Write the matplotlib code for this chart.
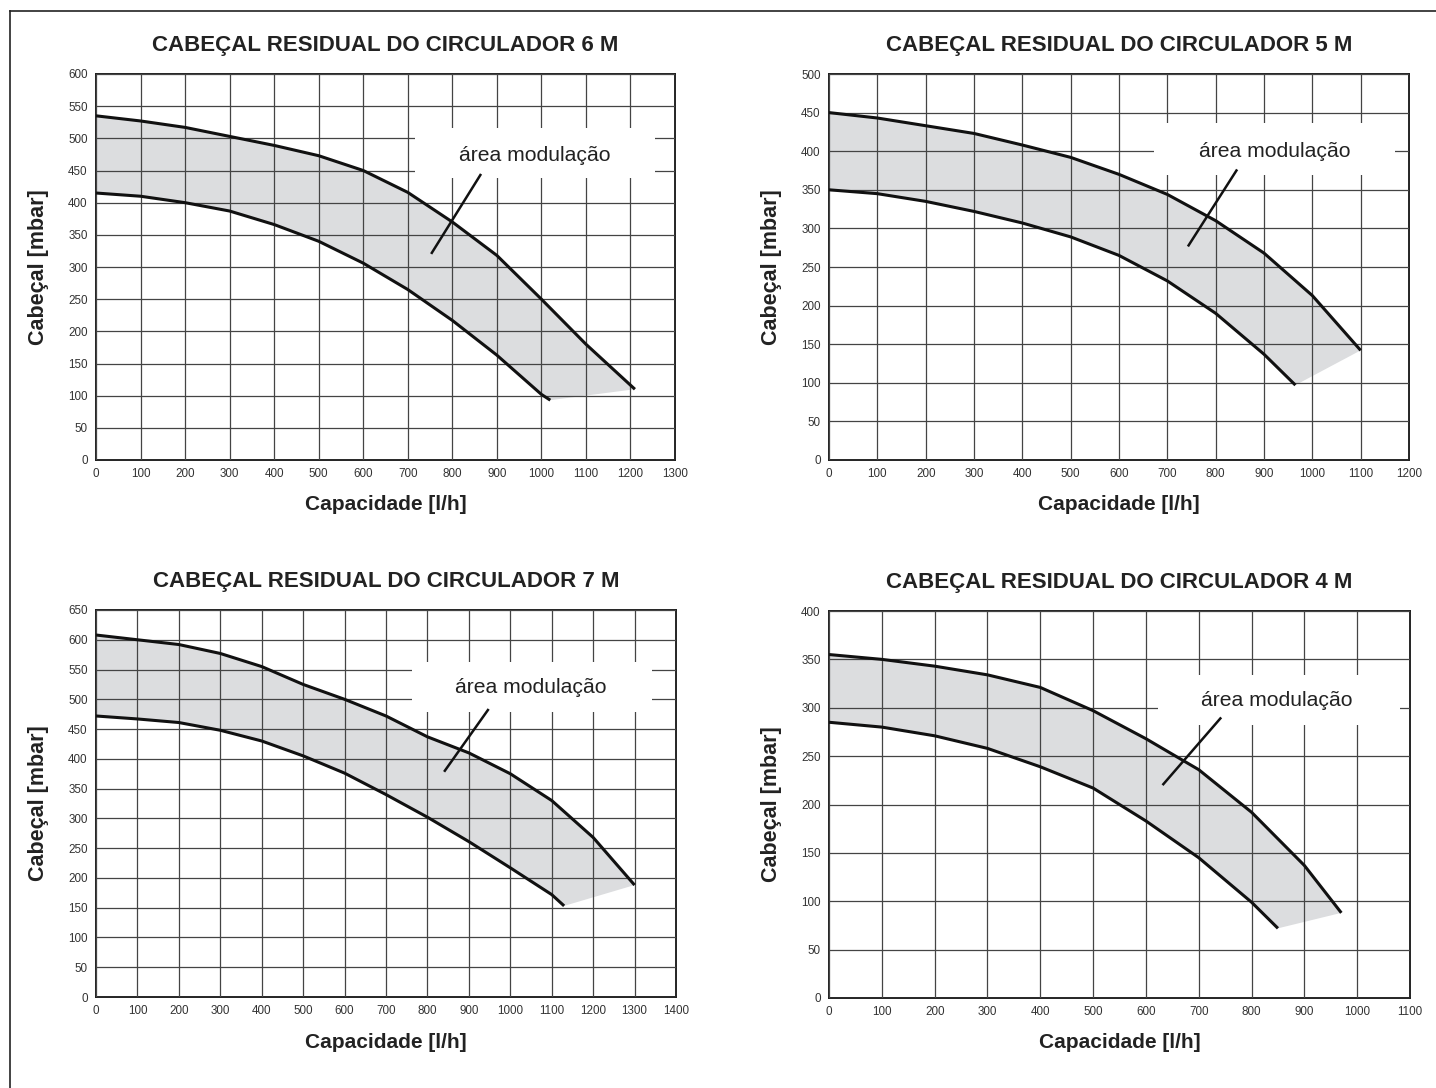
import matplotlib
matplotlib.use("Agg")
import matplotlib.pyplot as plt
from matplotlib.lines import Line2D
from matplotlib.patches import Rectangle

plt.rcParams['font.family'] = ['Liberation Sans', 'DejaVu Sans']

# -----------------------------
# Data (capacity l/h, head mbar)
# -----------------------------
titles = ["CABEÇAL RESIDUAL DO CIRCULADOR 6 M", "CABEÇAL RESIDUAL DO CIRCULADOR 5 M",
          "CABEÇAL RESIDUAL DO CIRCULADOR 7 M", "CABEÇAL RESIDUAL DO CIRCULADOR 4 M"]
x_max = [1300, 1200, 1400, 1100]
y_max = [600, 500, 650, 400]

# 6 M
m6_upper_x = [0, 100, 200, 300, 400, 500, 600, 700, 800, 900, 1000, 1100, 1210]
m6_upper_y = [535, 527, 517, 503, 489, 473, 450, 416, 370, 318, 250, 180, 110]
m6_lower_x = [0, 100, 200, 300, 400, 500, 600, 700, 800, 900, 1000, 1020]
m6_lower_y = [415, 410, 400, 387, 366, 340, 306, 265, 217, 163, 102, 93]

# 5 M
m5_upper_x = [0, 100, 200, 300, 400, 500, 600, 700, 800, 900, 1000, 1100]
m5_upper_y = [450, 443, 433, 423, 408, 392, 370, 344, 310, 268, 213, 142]
m5_lower_x = [0, 100, 200, 300, 400, 500, 600, 700, 800, 900, 965]
m5_lower_y = [350, 345, 335, 322, 307, 289, 265, 232, 190, 137, 97]

# 7 M
m7_upper_x = [0, 100, 200, 300, 400, 500, 600, 700, 800, 900, 1000, 1100, 1200, 1300]
m7_upper_y = [608, 600, 592, 577, 555, 525, 500, 472, 437, 410, 375, 330, 268, 188]
m7_lower_x = [0, 100, 200, 300, 400, 500, 600, 700, 800, 900, 1000, 1100, 1130]
m7_lower_y = [472, 467, 461, 448, 430, 405, 376, 340, 302, 261, 217, 172, 153]

# 4 M
m4_upper_x = [0, 100, 200, 300, 400, 500, 600, 700, 800, 900, 970]
m4_upper_y = [355, 350, 343, 334, 321, 297, 268, 236, 192, 137, 88]
m4_lower_x = [0, 100, 200, 300, 400, 500, 600, 700, 800, 850]
m4_lower_y = [285, 280, 271, 258, 239, 217, 183, 145, 99, 72]

uppers = [(m6_upper_x, m6_upper_y), (m5_upper_x, m5_upper_y),
          (m7_upper_x, m7_upper_y), (m4_upper_x, m4_upper_y)]
lowers = [(m6_lower_x, m6_lower_y), (m5_lower_x, m5_lower_y),
          (m7_lower_x, m7_lower_y), (m4_lower_x, m4_lower_y)]

label_text = "área modulação"

# -----------------------------
# Layout (pixels) and annotation placement (data units)
# -----------------------------
W, H = 1436, 1088
panels_px = [(96, 74, 675, 460), (829, 74, 1409, 460),
             (96, 610, 676, 997), (829, 611, 1410, 998)]
# white box (x0, x1, y0, y1), text centre (x, y), leader line (x0, y0, x1, y1)
boxes = [(716, 1255, 438, 516), (673, 1172, 369, 436), (763, 1342, 478, 563), (622, 1081, 282, 334)]
text_pos = [(986, 474), (923, 400), (1049, 519), (847, 307)]
leaders = [(754, 322, 863, 443), (744, 278, 843, 375), (842, 380, 946, 482), (633, 221, 741, 289)]

fig = plt.figure(figsize=(W / 100, H / 100), dpi=100)

# frame lines (top and left only)
fig.add_artist(Line2D([10 / W, 1], [1 - 11 / H, 1 - 11 / H], color="#222222", lw=1.2))
fig.add_artist(Line2D([10 / W, 10 / W], [0, 1 - 11 / H], color="#222222", lw=1.2))

for i in range(4):
    l, t, r, b = panels_px[i]
    ax = fig.add_axes([l / W, 1 - b / H, (r - l) / W, (b - t) / H])
    ux, uy = uppers[i]
    lx, ly = lowers[i]

    # shaded modulation area
    poly_x = list(ux) + list(lx[::-1])
    poly_y = list(uy) + list(ly[::-1])
    ax.fill(poly_x, poly_y, color="#dcdddf", lw=0, zorder=1)

    ax.plot(ux, uy, color="#111111", lw=2.2, zorder=4, solid_capstyle="butt")
    ax.plot(lx, ly, color="#111111", lw=2.2, zorder=4, solid_capstyle="butt")

    ax.set_xlim(0, x_max[i])
    ax.set_ylim(0, y_max[i])
    ax.set_xticks(range(0, x_max[i] + 1, 100))
    ax.set_yticks(range(0, y_max[i] + 1, 50))
    ax.set_axisbelow(False)
    ax.grid(True, color="#444444", lw=0.9)
    for g in ax.get_xgridlines() + ax.get_ygridlines():
        g.set_zorder(2)
    ax.tick_params(length=0, labelsize=8.4, labelcolor="#333333", pad=6)
    for s in ax.spines.values():
        s.set_color("#222222")
        s.set_linewidth(1.4)

    # label box with leader line
    bx0, bx1, by0, by1 = boxes[i]
    ax.add_patch(Rectangle((bx0, by0), bx1 - bx0, by1 - by0, facecolor="white",
                           edgecolor="none", zorder=3))
    ax.text(text_pos[i][0], text_pos[i][1], label_text, fontsize=15.2, color="#222222",
            ha="center", va="center", zorder=5)
    x0, y0, x1, y1 = leaders[i]
    ax.plot([x0, x1], [y0, y1], color="#111111", lw=1.8, zorder=5)

    # titles and axis labels
    cx = (l + r) / 2
    fig.text(cx / W, 1 - (t - 23) / H, titles[i], fontsize=16, fontweight="bold",
             color="#222222", ha="center", va="baseline")
    fig.text(cx / W, 1 - (b + 45) / H, "Capacidade [l/h]", fontsize=15, fontweight="bold",
             color="#222222", ha="center", va="center")
    fig.text((l - 57) / W, 1 - ((t + b) / 2) / H, "Cabeçal [mbar]", fontsize=15.5,
             fontweight="bold", color="#222222", ha="center", va="center", rotation=90)

fig.savefig("out.png", dpi=100, facecolor="white")
